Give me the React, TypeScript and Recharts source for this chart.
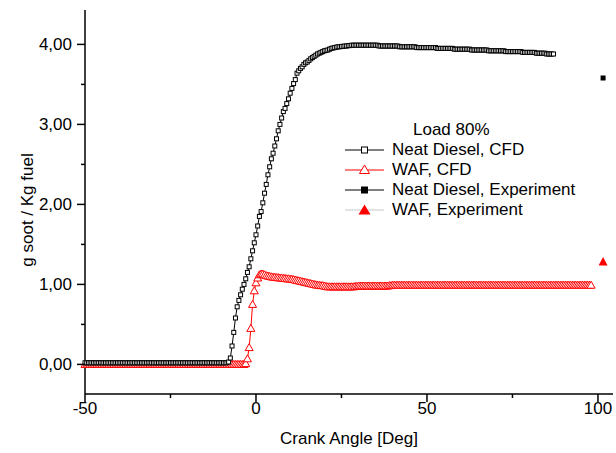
import { ComposedChart, Line, XAxis, YAxis } from 'recharts';

// crank angle grid, 0.5 deg steps (CFD output)
const angles = [
  -50, -49.5, -49, -48.5, -48, -47.5, -47, -46.5, -46, -45.5, -45, -44.5, -44, -43.5, -43, -42.5, -42, -41.5, -41, -40.5,
  -40, -39.5, -39, -38.5, -38, -37.5, -37, -36.5, -36, -35.5, -35, -34.5, -34, -33.5, -33, -32.5, -32, -31.5, -31, -30.5,
  -30, -29.5, -29, -28.5, -28, -27.5, -27, -26.5, -26, -25.5, -25, -24.5, -24, -23.5, -23, -22.5, -22, -21.5, -21, -20.5,
  -20, -19.5, -19, -18.5, -18, -17.5, -17, -16.5, -16, -15.5, -15, -14.5, -14, -13.5, -13, -12.5, -12, -11.5, -11, -10.5,
  -10, -9.5, -9, -8.5, -8, -7.5, -7, -6.5, -6, -5.5, -5, -4.5, -4, -3.5, -3, -2.5, -2, -1.5, -1, -0.5,
  0, 0.5, 1, 1.5, 2, 2.5, 3, 3.5, 4, 4.5, 5, 5.5, 6, 6.5, 7, 7.5, 8, 8.5, 9, 9.5,
  10, 10.5, 11, 11.5, 12, 12.5, 13, 13.5, 14, 14.5, 15, 15.5, 16, 16.5, 17, 17.5, 18, 18.5, 19, 19.5,
  20, 20.5, 21, 21.5, 22, 22.5, 23, 23.5, 24, 24.5, 25, 25.5, 26, 26.5, 27, 27.5, 28, 28.5, 29, 29.5,
  30, 30.5, 31, 31.5, 32, 32.5, 33, 33.5, 34, 34.5, 35, 35.5, 36, 36.5, 37, 37.5, 38, 38.5, 39, 39.5,
  40, 40.5, 41, 41.5, 42, 42.5, 43, 43.5, 44, 44.5, 45, 45.5, 46, 46.5, 47, 47.5, 48, 48.5, 49, 49.5,
  50, 50.5, 51, 51.5, 52, 52.5, 53, 53.5, 54, 54.5, 55, 55.5, 56, 56.5, 57, 57.5, 58, 58.5, 59, 59.5,
  60, 60.5, 61, 61.5, 62, 62.5, 63, 63.5, 64, 64.5, 65, 65.5, 66, 66.5, 67, 67.5, 68, 68.5, 69, 69.5,
  70, 70.5, 71, 71.5, 72, 72.5, 73, 73.5, 74, 74.5, 75, 75.5, 76, 76.5, 77, 77.5, 78, 78.5, 79, 79.5,
  80, 80.5, 81, 81.5, 82, 82.5, 83, 83.5, 84, 84.5, 85, 85.5, 86, 86.5, 87, 87.5, 88, 88.5, 89, 89.5,
  90, 90.5, 91, 91.5, 92, 92.5, 93, 93.5, 94, 94.5, 95, 95.5, 96, 96.5, 97, 97.5, 98,
];

// Neat Diesel, CFD (g soot / kg fuel), -50 .. 87 deg
const ndCfdSoot = [
  0.02, 0.02, 0.02, 0.02, 0.02, 0.02, 0.02, 0.02, 0.02, 0.02, 0.02, 0.02, 0.02, 0.02, 0.02, 0.02, 0.02, 0.02, 0.02, 0.02,
  0.02, 0.02, 0.02, 0.02, 0.02, 0.02, 0.02, 0.02, 0.02, 0.02, 0.02, 0.02, 0.02, 0.02, 0.02, 0.02, 0.02, 0.02, 0.02, 0.02,
  0.02, 0.02, 0.02, 0.02, 0.02, 0.02, 0.02, 0.02, 0.02, 0.02, 0.02, 0.02, 0.02, 0.02, 0.02, 0.02, 0.02, 0.02, 0.02, 0.02,
  0.02, 0.02, 0.02, 0.02, 0.02, 0.02, 0.02, 0.02, 0.02, 0.02, 0.02, 0.02, 0.02, 0.02, 0.02, 0.02, 0.02, 0.02, 0.02, 0.02,
  0.02, 0.02, 0.02, 0.02, 0.03, 0.08, 0.23, 0.4, 0.58, 0.72, 0.8, 0.87, 0.94, 1.0, 1.07, 1.15, 1.22, 1.32, 1.42, 1.52,
  1.62, 1.73, 1.85, 1.91, 2.02, 2.14, 2.25, 2.37, 2.47, 2.57, 2.64, 2.73, 2.82, 2.92, 3.0, 3.08, 3.16, 3.2, 3.26, 3.32,
  3.39, 3.45, 3.51, 3.56, 3.64, 3.67, 3.7, 3.72, 3.75, 3.77, 3.78, 3.8, 3.82, 3.835, 3.85, 3.865, 3.88, 3.89, 3.9, 3.91,
  3.92, 3.925, 3.93, 3.94, 3.95, 3.955, 3.96, 3.965, 3.97, 3.97, 3.975, 3.975, 3.98, 3.98, 3.985, 3.985, 3.99, 3.99, 3.99, 3.99,
  3.99, 3.99, 3.99, 3.99, 3.99, 3.99, 3.99, 3.99, 3.99, 3.99, 3.99, 3.99, 3.98, 3.98, 3.98, 3.98, 3.98, 3.98, 3.98, 3.98,
  3.98, 3.98, 3.98, 3.98, 3.97, 3.97, 3.97, 3.97, 3.97, 3.97, 3.97, 3.97, 3.97, 3.97, 3.96, 3.96, 3.96, 3.96, 3.96, 3.96,
  3.96, 3.96, 3.96, 3.96, 3.96, 3.96, 3.95, 3.95, 3.95, 3.95, 3.95, 3.95, 3.95, 3.95, 3.95, 3.95, 3.94, 3.94, 3.94, 3.94,
  3.94, 3.94, 3.94, 3.94, 3.94, 3.94, 3.93, 3.93, 3.93, 3.93, 3.93, 3.93, 3.93, 3.93, 3.93, 3.93, 3.92, 3.92, 3.92, 3.92,
  3.92, 3.92, 3.92, 3.92, 3.92, 3.92, 3.91, 3.91, 3.91, 3.91, 3.91, 3.91, 3.91, 3.91, 3.91, 3.91, 3.9, 3.9, 3.9, 3.9,
  3.9, 3.9, 3.9, 3.9, 3.89, 3.89, 3.89, 3.89, 3.89, 3.89, 3.88, 3.88, 3.88, 3.88, 3.88,
];

// WAF, CFD, -50 .. 98 deg
const wafCfdSoot = [
  0, 0, 0, 0, 0, 0, 0, 0, 0, 0, 0, 0, 0, 0, 0, 0, 0, 0, 0, 0,
  0, 0, 0, 0, 0, 0, 0, 0, 0, 0, 0, 0, 0, 0, 0, 0, 0, 0, 0, 0,
  0, 0, 0, 0, 0, 0, 0, 0, 0, 0, 0, 0, 0, 0, 0, 0, 0, 0, 0, 0,
  0, 0, 0, 0, 0, 0, 0, 0, 0, 0, 0, 0, 0, 0, 0, 0, 0, 0, 0, 0,
  0, 0, 0, 0, 0, 0, 0, 0, 0, 0, 0, 0, 0, 0, 0.01, 0.07, 0.21, 0.45, 0.75, 0.92,
  1.02, 1.08, 1.12, 1.13, 1.13, 1.12, 1.11, 1.105, 1.1, 1.095, 1.09, 1.09, 1.085, 1.085, 1.08, 1.08, 1.075, 1.075, 1.07, 1.07,
  1.065, 1.065, 1.06, 1.055, 1.05, 1.045, 1.04, 1.035, 1.03, 1.025, 1.02, 1.015, 1.01, 1.005, 1.0, 0.995, 0.99, 0.99, 0.985, 0.985,
  0.98, 0.975, 0.97, 0.97, 0.97, 0.97, 0.97, 0.97, 0.97, 0.97, 0.97, 0.97, 0.97, 0.97, 0.97, 0.97, 0.97, 0.97, 0.975, 0.975,
  0.98, 0.98, 0.98, 0.98, 0.98, 0.98, 0.98, 0.98, 0.98, 0.98, 0.98, 0.98, 0.98, 0.98, 0.98, 0.98, 0.98, 0.98, 0.985, 0.985,
  0.99, 0.99, 0.99, 0.99, 0.99, 0.99, 0.99, 0.99, 0.99, 0.99, 0.99, 0.99, 0.99, 0.99, 0.99, 0.99, 0.99, 0.99, 0.99, 0.99,
  0.99, 0.99, 0.99, 0.99, 0.99, 0.99, 0.99, 0.99, 0.99, 0.99, 0.99, 0.99, 0.99, 0.99, 0.99, 0.99, 0.99, 0.99, 0.99, 0.99,
  0.99, 0.99, 0.99, 0.99, 0.99, 0.99, 0.99, 0.99, 0.99, 0.99, 0.99, 0.99, 0.99, 0.99, 0.99, 0.99, 0.99, 0.99, 0.99, 0.99,
  0.99, 0.99, 0.99, 0.99, 0.99, 0.99, 0.99, 0.99, 0.99, 0.99, 0.99, 0.99, 0.99, 0.99, 0.99, 0.99, 0.99, 0.99, 0.99, 0.99,
  0.99, 0.99, 0.99, 0.99, 0.99, 0.99, 0.99, 0.99, 0.99, 0.99, 0.99, 0.99, 0.99, 0.99, 0.99, 0.99, 0.99, 0.99, 0.99, 0.99,
  0.99, 0.99, 0.99, 0.99, 0.99, 0.99, 0.99, 0.99, 0.99, 0.99, 0.99, 0.99, 0.99, 0.99, 0.99, 0.99, 0.99,
];

// Experiments (one point each)
const ndExpAngles = [101.5];
const ndExpSoot = [3.58];
const wafExpAngles = [101.5];
const wafExpSoot = [1.28];

const xTicks = [-50, -25, 0, 25, 50, 75, 100];
const yTicks = [0, 0.5, 1, 1.5, 2, 2.5, 3, 3.5, 4];

const FONT = '"Liberation Sans", Arial, sans-serif';
const RED = '#ff0000';

// pair values with their angles
const toPoints = (xs: number[], ys: number[]) => ys.map((y, i) => ({ x: xs[i], y }));

const HollowSquare = (p: any) => (
  <rect key={`sq-${p.index}`} x={p.cx - 2} y={p.cy - 2} width={4} height={4} fill="#fff" stroke="#000" strokeWidth={1} />
);

const HollowTriangle = (p: any) => (
  <polygon
    key={`tr-${p.index}`}
    points={`${p.cx},${p.cy - 4} ${p.cx - 4},${p.cy + 3} ${p.cx + 4},${p.cy + 3}`}
    fill="#fff"
    stroke={RED}
    strokeWidth={1}
  />
);

const FilledSquare = (p: any) => (
  <rect key={`fs-${p.index}`} x={p.cx - 2.5} y={p.cy - 2.5} width={5} height={5} fill="#000" />
);

const FilledTriangle = (p: any) => (
  <polygon
    key={`ft-${p.index}`}
    points={`${p.cx},${p.cy - 5} ${p.cx - 4.5},${p.cy + 3.5} ${p.cx + 4.5},${p.cy + 3.5}`}
    fill={RED}
  />
);

const YTick = ({ x, y, payload }: any) => {
  const axisX = x + 13;
  const major = Number.isInteger(payload.value);
  return (
    <g>
      <line x1={axisX - (major ? 8 : 4)} x2={axisX} y1={y} y2={y} stroke="#000" strokeWidth={1.5} />
      {major && (
        <text x={x} y={y} dy="0.35em" textAnchor="end" fontSize={17} fontFamily={FONT} fill="#000">
          {payload.value.toFixed(2).replace('.', ',')}
        </text>
      )}
    </g>
  );
};

const XTick = ({ x, y, payload }: any) => {
  const axisY = y - 12;
  const major = payload.value % 50 === 0;
  return (
    <g>
      <line x1={x} x2={x} y1={axisY} y2={axisY + (major ? 8 : 4)} stroke="#000" strokeWidth={1.5} />
      {major && (
        <text x={x} y={axisY + 20} textAnchor="middle" fontSize={17} fontFamily={FONT} fill="#000">
          {payload.value}
        </text>
      )}
    </g>
  );
};

const legendItems = [
  { label: 'Neat Diesel, CFD', line: '#000', marker: 'hollowSquare' },
  { label: 'WAF, CFD', line: RED, marker: 'hollowTriangle' },
  { label: 'Neat Diesel, Experiment', line: '#000', marker: 'filledSquare' },
  { label: 'WAF, Experiment', line: '#c8c8c8', marker: 'filledTriangle' },
];

function LegendIcon({ line, marker }: { line: string; marker: string }) {
  return (
    <svg width={40} height={20}>
      <line x1={0} x2={39} y1={10} y2={10} stroke={line} strokeWidth={1} />
      {marker === 'hollowSquare' && <rect x={16.5} y={7} width={6} height={6} fill="#fff" stroke="#000" />}
      {marker === 'hollowTriangle' && (
        <polygon points="19.5,5 14.5,13.5 24.5,13.5" fill="#fff" stroke={RED} />
      )}
      {marker === 'filledSquare' && <rect x={16} y={6.5} width={7} height={7} fill="#000" />}
      {marker === 'filledTriangle' && <polygon points="19.5,4.5 13.5,14.5 25.5,14.5" fill={RED} />}
    </svg>
  );
}

export default function App() {
  const ndCfd = toPoints(angles, ndCfdSoot);
  const wafCfd = toPoints(angles, wafCfdSoot);
  const ndExp = toPoints(ndExpAngles, ndExpSoot);
  const wafExp = toPoints(wafExpAngles, wafExpSoot);

  return (
    <div style={{ position: 'absolute', left: 0, top: 0, width: 616, height: 453, background: '#fff', fontFamily: FONT }}>
      <ComposedChart width={616} height={453} margin={{ top: 10, right: 3, bottom: 0, left: 0 }}>
        <XAxis
          type="number"
          dataKey="x"
          domain={[-50, 104.4]}
          ticks={xTicks}
          interval={0}
          height={59}
          tickSize={8}
          tickMargin={4}
          tickLine={false}
          tick={<XTick />}
          axisLine={{ stroke: '#000', strokeWidth: 1.5 }}
          label={{ value: 'Crank Angle [Deg]', position: 'insideBottom', offset: 9, fontSize: 17, fill: '#000', fontFamily: FONT }}
        />
        <YAxis
          type="number"
          domain={[-0.37, 4.43]}
          ticks={yTicks}
          interval={0}
          width={85}
          tickSize={8}
          tickMargin={5}
          tickLine={false}
          tick={<YTick />}
          axisLine={{ stroke: '#000', strokeWidth: 1.5 }}
          label={() => (
            <text
              x={27}
              y={210}
              transform="rotate(-90 27 210)"
              textAnchor="middle"
              dominantBaseline="central"
              fontSize={17}
              fontFamily={FONT}
              fill="#000"
            >
              g soot / Kg fuel
            </text>
          )}
        />
        <Line data={wafCfd} dataKey="y" type="linear" stroke={RED} strokeWidth={1} dot={HollowTriangle} activeDot={false} isAnimationActive={false} />
        <Line data={ndCfd} dataKey="y" type="linear" stroke="#000" strokeWidth={1} dot={HollowSquare} activeDot={false} isAnimationActive={false} />
        <Line data={ndExp} dataKey="y" type="linear" stroke="none" dot={FilledSquare} activeDot={false} isAnimationActive={false} />
        <Line data={wafExp} dataKey="y" type="linear" stroke="none" dot={FilledTriangle} activeDot={false} isAnimationActive={false} />
      </ComposedChart>

      {/* legend */}
      <div style={{ position: 'absolute', left: 345, top: 119, fontSize: 17, color: '#000', lineHeight: '20px' }}>
        <div style={{ height: 21, lineHeight: '21px', paddingLeft: 68 }}>Load 80%</div>
        {legendItems.map((item) => (
          <div key={item.label} style={{ display: 'flex', alignItems: 'center', height: 20, whiteSpace: 'nowrap' }}>
            <LegendIcon line={item.line} marker={item.marker} />
            <span style={{ marginLeft: 7 }}>{item.label}</span>
          </div>
        ))}
      </div>
    </div>
  );
}
